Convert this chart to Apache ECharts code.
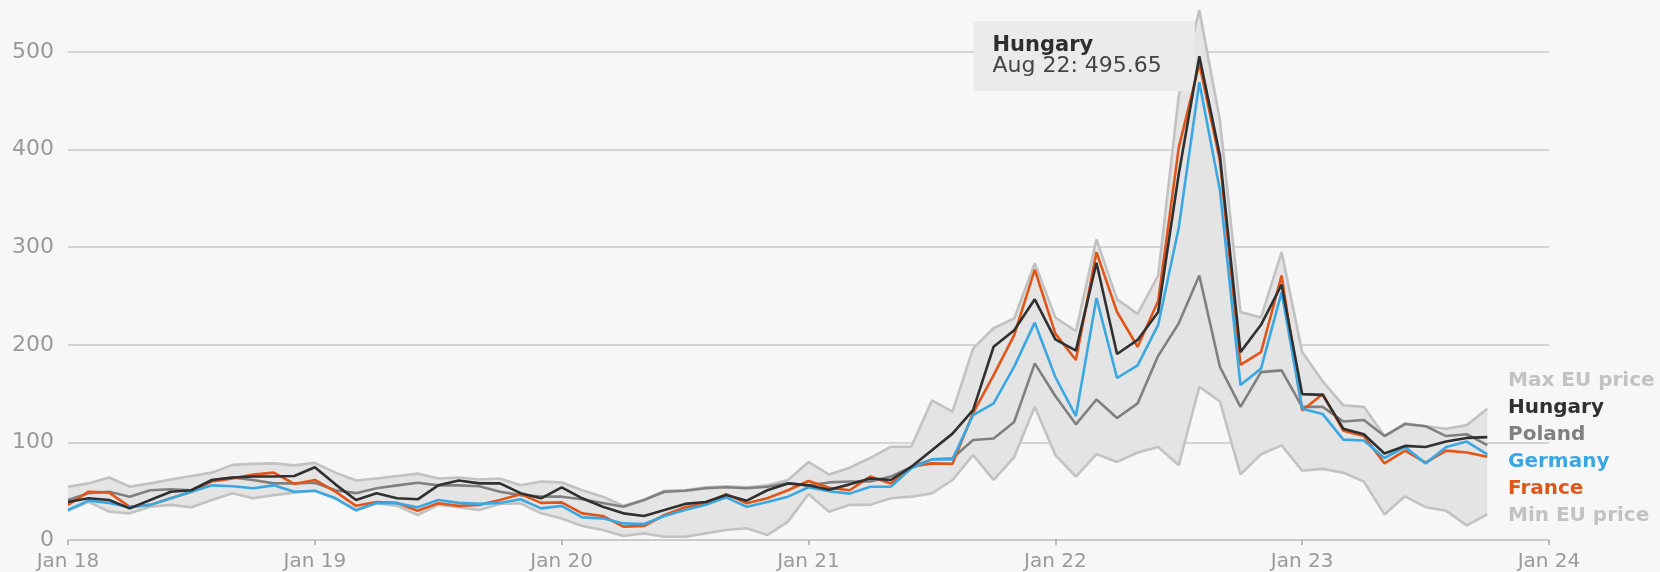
<!DOCTYPE html>
<html>
<head>
<meta charset="utf-8">
<script src="https://cdn.jsdelivr.net/npm/echarts@6/dist/echarts.min.js"></script>
<style>
  html, body { margin: 0; padding: 0; background: #f7f7f7; }
  #chart { width: 1660px; height: 572px; }
</style>
</head>
<body>
<div id="chart"></div>
<script>
// monthly prices, Jan 18 .. Oct 23
const monthNames = ['Jan', 'Feb', 'Mar', 'Apr', 'May', 'Jun', 'Jul', 'Aug', 'Sep', 'Oct', 'Nov', 'Dec']
const years = ['18', '19', '20', '21', '22', '23', '24']

const maxPrice = [54.6, 58, 64, 54.6, 58, 62, 65.6, 69, 77, 78, 78.5, 76.5,
  79, 69, 61, 63, 65.6, 68, 63, 64, 62, 63, 56, 60,
  59, 51, 44.4, 35, 41, 50.5, 51, 54, 55, 54, 56, 61.5,
  80, 67, 74, 84, 95.6, 95.6, 143, 131.5, 196, 217, 227, 283.5,
  228, 214, 308, 246.6, 231.7, 271, 455, 543, 430, 233.6, 228, 295,
  192.5, 162.6, 138, 136.4, 106.5, 119.6, 116.6, 114, 117.7, 134.5]

const hungary = [39, 42.7, 41, 32.4, 41, 49.5, 51, 61.5, 64, 65, 65, 65.6,
  74.5, 57, 41, 48, 42.7, 41.7, 56, 61, 58, 58, 48, 42.7,
  54, 42.7, 34, 27.3, 24.6, 30.7, 37, 39, 46, 40.3, 51, 58,
  56, 51.5, 57, 63, 61.5, 75, 92, 109, 133, 198, 215, 246.6,
  205.5, 194, 284, 190.6, 205, 233.6, 375, 495.65, 394, 192.5, 220.5, 261.6,
  149.5, 148.7, 114, 108.4, 88.6, 96.4, 95.3, 100.9, 104.6, 105.4]

const poland = [41, 48, 49.5, 44.4, 51, 52, 51, 61.5, 64, 61.5, 58, 58,
  58.7, 51, 48, 53, 56, 58.7, 56, 56, 55, 49.5, 46, 44.4,
  44.4, 41.7, 38, 34, 41, 49.5, 50.5, 53, 54, 53, 54.6, 58,
  56, 59, 60, 60, 65, 75, 82.6, 83.7, 102.5, 104, 121, 181,
  147.6, 118.5, 144, 125, 140, 188.7, 222, 271, 177.5, 136.4, 172, 173.8,
  136.4, 136.4, 121.4, 123, 106.5, 118.8, 116.6, 106.5, 108.4, 97.2]

const germany = [30.7, 40.3, 38, 33.5, 36, 42.7, 49.5, 56, 55, 53, 56, 49.5,
  50.5, 42.7, 30.7, 38, 37.6, 33.5, 41, 38, 37, 38, 41.7, 32.4,
  35, 23.2, 22.2, 17, 16.4, 24.6, 30.7, 36, 43.7, 34, 39, 44.4,
  54, 50, 47.5, 54.6, 54.6, 73.4, 82.6, 82.6, 128, 140, 177.6, 222.7,
  167, 127, 248, 166, 179, 220.5, 320, 469, 358.7, 158.8, 175.6, 254,
  134.5, 129, 102.8, 102, 84, 95.3, 78.5, 95.3, 100.9, 87.8]

const france = [36, 49.5, 48.5, 34, 36, 42.7, 49.5, 60, 63, 67, 69, 57.4,
  61.5, 49.5, 35, 39, 38, 30, 37.6, 35, 36, 41, 47, 38,
  38.5, 27.3, 24.6, 13.7, 14.3, 25.6, 33.5, 37.6, 47, 37.6, 42.7, 51,
  60.5, 53.5, 51, 65, 58, 75, 78.5, 78, 130, 169, 210, 277,
  211.5, 184.5, 295, 233.6, 198, 244.8, 402, 488, 388.6, 179.4, 192.5, 271,
  132.7, 149.5, 112, 106.5, 78.5, 91.6, 79.2, 91.6, 89.7, 85.2]

const minPrice = [30, 39, 29, 27.3, 34, 36, 33.5, 41, 48, 42.7, 46, 48.5,
  50.5, 42.7, 30, 37.6, 35, 25.6, 36, 33.5, 30.7, 37, 37.6, 27.3,
  22, 14.3, 10.2, 4.1, 6.8, 3.4, 3.4, 6.8, 10.2, 12, 5, 18.8,
  47, 29, 36, 36, 42.7, 44.4, 47.8, 61.5, 87, 61.5, 85, 136.6,
  87, 65, 88, 80, 89.7, 95.3, 76.6, 157, 142, 67.3, 87.8, 97,
  71, 72.9, 69, 59.8, 26.2, 44.8, 33.6, 29.9, 15, 26.2]

const yTicks = [0, 100, 200, 300, 400, 500]

// category list Jan 18 .. Jan 24
let categories = []
years.forEach((y, i) => {
  monthNames.forEach(m => {
    if (i < years.length - 1 || m === 'Jan') categories.push(m + ' ' + y)
  })
})

const bandHeight = maxPrice.map((v, i) => v - minPrice[i])

const fontName = 'DejaVu Sans'
const lineSeries = (name, data, color, z) => ({
  name: name,
  type: 'line',
  data: data,
  symbol: 'none',
  clip: false,
  z: z,
  lineStyle: { color: color, width: 2.6 },
  itemStyle: { color: color }
})

var myChart = echarts.init(document.getElementById('chart'))
let hungarySeries = lineSeries('Hungary', hungary, '#303030', 8)
// the highlighted point box
hungarySeries.markPoint = {
  symbol: 'circle',
  symbolSize: 1,
  itemStyle: { color: 'rgba(0,0,0,0)' },
  data: [{ coord: ['Aug 22', 495.65] }],
  label: {
    show: true,
    position: 'left',
    distance: 17,
    offset: [13, 0],
    backgroundColor: '#ebebeb',
    padding: [14, 33, 14, 19],
    formatter: '{a|Hungary}\n{b|Aug 22: 495.65}',
    rich: {
      a: { fontFamily: fontName, fontSize: 21, fontWeight: 'bold', color: '#2e2e2e', lineHeight: 21, align: 'left' },
      b: { fontFamily: fontName, fontSize: 22, color: '#444', lineHeight: 21, align: 'left' }
    }
  }
}

let option = {
  backgroundColor: '#f7f7f7',
  animation: false,
  grid: {
    left: 68,
    right: 111,
    top: 52,
    bottom: 32
  },
  legend: {
    orient: 'vertical',
    left: 1498,
    top: 365,
    icon: 'none',
    itemWidth: 0,
    itemHeight: 14,
    itemGap: 6,
    selectedMode: false,
    textStyle: { fontFamily: fontName, fontSize: 20, fontWeight: 'bold', lineHeight: 21 },
    data: [
      { name: 'Max EU price', textStyle: { color: '#c2c2c2' } },
      { name: 'Hungary', textStyle: { color: '#303030' } },
      { name: 'Poland', textStyle: { color: '#808080' } },
      { name: 'Germany', textStyle: { color: '#3ba7e2' } },
      { name: 'France', textStyle: { color: '#e0561a' } },
      { name: 'Min EU price', textStyle: { color: '#c2c2c2' } }
    ]
  },
  xAxis: {
    type: 'category',
    boundaryGap: false,
    data: categories,
    axisLine: { lineStyle: { color: '#c6c6c6', width: 1.5 } },
    axisTick: {
      length: 5,
      interval: (i) => i % 12 === 0,
      lineStyle: { color: '#a8a8a8', width: 1.5 }
    },
    axisLabel: {
      interval: (i) => i % 12 === 0,
      margin: 12,
      color: '#9a9a9a',
      fontFamily: fontName,
      fontSize: 20
    },
    splitLine: { show: false }
  },
  yAxis: {
    type: 'value',
    min: yTicks[0],
    max: yTicks[yTicks.length - 1],
    interval: 100,
    axisLine: { show: false },
    axisTick: { show: false },
    axisLabel: {
      margin: 14,
      color: '#9a9a9a',
      fontFamily: fontName,
      fontSize: 22
    },
    splitLine: { lineStyle: { color: '#c8c8c8', width: 1.5 } }
  },
  series: [
    {
      name: 'bandBase',
      type: 'line',
      stack: 'band',
      data: minPrice,
      symbol: 'none',
      silent: true,
      clip: false,
      z: 1,
      lineStyle: { opacity: 0 }
    },
    {
      name: 'bandFill',
      type: 'line',
      stack: 'band',
      data: bandHeight,
      symbol: 'none',
      silent: true,
      clip: false,
      z: 1,
      lineStyle: { opacity: 0 },
      areaStyle: { color: '#e4e4e4', opacity: 1 }
    },
    lineSeries('Max EU price', maxPrice, '#c2c2c2', 3),
    lineSeries('Min EU price', minPrice, '#c2c2c2', 3),
    lineSeries('Poland', poland, '#808080', 4),
    lineSeries('France', france, '#e0561a', 5),
    lineSeries('Germany', germany, '#3ba7e2', 6),
    hungarySeries
  ]
}
myChart.setOption(option)
</script>
</body>
</html>
